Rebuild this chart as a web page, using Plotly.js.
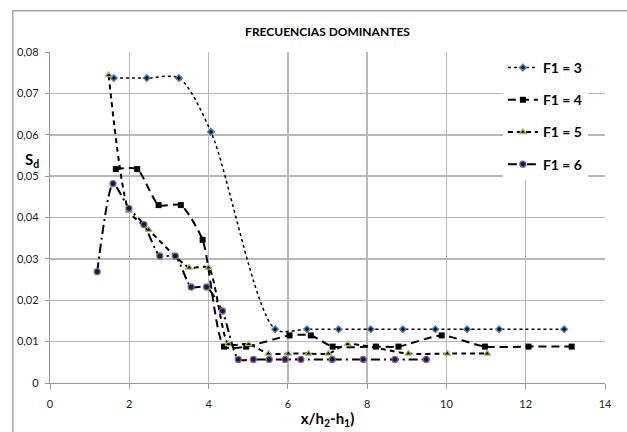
<!DOCTYPE html>
<html>
<head>
<meta charset="utf-8">
<script src="https://cdn.plot.ly/plotly-3.0.1.min.js"></script>
<style>html,body{margin:0;padding:0;background:#fff;}#chart{width:627px;height:432px;}</style>
</head>
<body>
<div id="chart"></div>
<script>
// Data
const seriesNames = ["F1 = 3", "F1 = 4", "F1 = 5", "F1 = 6"];

const x_f3 = [1.61, 2.44, 3.25, 4.06, 5.68, 6.48, 7.28, 8.09, 8.90, 9.72, 10.52, 11.33, 12.97];
const y_f3 = [0.0737, 0.0737, 0.0737, 0.0607, 0.0130, 0.0130, 0.0130, 0.0130, 0.0130, 0.0130, 0.0130, 0.0130, 0.0130];

const x_f4 = [1.66, 2.20, 2.74, 3.30, 3.85, 4.39, 4.95, 6.04, 6.58, 7.13, 8.22, 8.79, 9.88, 10.97, 12.07, 13.16];
const y_f4 = [0.0517, 0.0517, 0.0430, 0.0430, 0.0346, 0.0088, 0.0088, 0.0115, 0.0115, 0.0088, 0.0088, 0.0088, 0.0115, 0.0088, 0.0088, 0.0088];

const x_f5 = [1.48, 1.99, 2.49, 3.51, 4.00, 4.50, 5.01, 5.51, 6.01, 6.52, 7.02, 7.51, 9.04, 10.02, 11.03];
const y_f5 = [0.0744, 0.0416, 0.0370, 0.0279, 0.0279, 0.0094, 0.0094, 0.0071, 0.0071, 0.0071, 0.0071, 0.0094, 0.0071, 0.0071, 0.0071];

const x_f6 = [1.19, 1.59, 1.99, 2.37, 2.77, 3.16, 3.56, 3.95, 4.35, 4.75, 5.13, 5.53, 5.93, 6.33, 7.12, 7.90, 8.70, 9.49];
const y_f6 = [0.0269, 0.0482, 0.0422, 0.0383, 0.0307, 0.0307, 0.0232, 0.0232, 0.0174, 0.0057, 0.0057, 0.0057, 0.0057, 0.0057, 0.0057, 0.0057, 0.0057, 0.0057];

const yTickVals = [0, 0.01, 0.02, 0.03, 0.04, 0.05, 0.06, 0.07, 0.08];
const yTickText = ["0", "0,01", "0,02", "0,03", "0,04", "0,05", "0,06", "0,07", "0,08"];
const xTickVals = [0, 2, 4, 6, 8, 10, 12, 14];

const FONT = "Lato, 'Open Sans', 'DejaVu Sans', sans-serif";

const traces = [
  {x: x_f3, y: y_f3, name: seriesNames[0], legendgroup: "a", mode: "lines+markers",
   line: {color: "#000", width: 1.5, dash: "dot", shape: "spline", smoothing: 0.8},
   marker: {symbol: "diamond", size: 5, color: "#111", line: {color: "#4f81bd", width: 1.5}}},
  {x: x_f4, y: y_f4, name: seriesNames[1], legendgroup: "b", mode: "lines+markers",
   line: {color: "#000", width: 2, dash: "8px,5px", shape: "spline", smoothing: 0.6},
   marker: {symbol: "square", size: 6, color: "#000", line: {color: "#000", width: 0}}},
  {x: x_f5, y: y_f5, name: seriesNames[2], legendgroup: "c", mode: "lines+markers",
   line: {color: "#000", width: 2, dash: "5px,4px", shape: "spline", smoothing: 0.6},
   marker: {symbol: "triangle-up", size: 6, color: "#111", line: {color: "#9bbb59", width: 1.3}}},
  {x: x_f6, y: y_f6, name: seriesNames[3], legendgroup: "d", mode: "lines+markers",
   line: {color: "#000", width: 2, dash: "9px,4px,2px,4px", shape: "spline", smoothing: 0.6},
   marker: {symbol: "circle", size: 6, color: "#1b1a33", line: {color: "#8064a2", width: 1.3}}}
];

const layout = {
  width: 627, height: 432,
  margin: {l: 50, r: 22, t: 52, b: 49},
  paper_bgcolor: "#fff", plot_bgcolor: "#fff",
  font: {family: FONT, size: 11, color: "#222"},
  showlegend: true,
  title: {text: "FRECUENCIAS DOMINANTES", font: {family: FONT, size: 12, color: "#000", weight: 700},
          x: 0.5, xref: "paper", xanchor: "center", y: 0.935, yref: "container"},
  xaxis: {range: [0, 14], tickvals: xTickVals, showgrid: true, gridcolor: "#b8b8b8", gridwidth: 1.5,
          zeroline: false, showline: true, linecolor: "#999", linewidth: 1.2,
          ticks: "outside", ticklen: 5, tickcolor: "#999", tickwidth: 1,
          tickfont: {family: FONT, size: 11, color: "#222"}, ticklabelstandoff: 6,
          title: {text: "x/h<sub>2</sub>-h<sub>1</sub>)", font: {family: FONT, size: 15, color: "#000", weight: 700}, standoff: 4}},
  yaxis: {range: [0, 0.08], tickvals: yTickVals, ticktext: yTickText, showgrid: true, gridcolor: "#b8b8b8", gridwidth: 1.5,
          zeroline: false, showline: true, linecolor: "#999", linewidth: 1.2,
          ticks: "outside", ticklen: 4, tickcolor: "#999", tickwidth: 1,
          tickfont: {family: FONT, size: 11, color: "#222"}, ticklabelstandoff: 4},
  legend: {x: 0.816, y: 1.0, xanchor: "left", yanchor: "top", bgcolor: "#fff", borderwidth: 0,
           font: {family: FONT, size: 14, color: "#000", weight: 700}, tracegroupgap: 11, itemwidth: 30},
  annotations: [
    {text: "S<sub>d</sub>", xref: "paper", yref: "paper", x: -0.032, y: 0.674,
     xanchor: "center", yanchor: "middle", showarrow: false, font: {family: FONT, size: 15, color: "#000", weight: 700}}
  ],
  shapes: [
    {type: "rect", xref: "paper", yref: "paper", x0: -0.067, y0: -0.3, x1: 1.2, y1: 1.125,
     line: {color: "#a6a6a6", width: 1.5}, fillcolor: "rgba(0,0,0,0)", layer: "below"}
  ]
};

Plotly.newPlot("chart", traces, layout, {displayModeBar: false, staticPlot: true});
</script>
</body>
</html>
